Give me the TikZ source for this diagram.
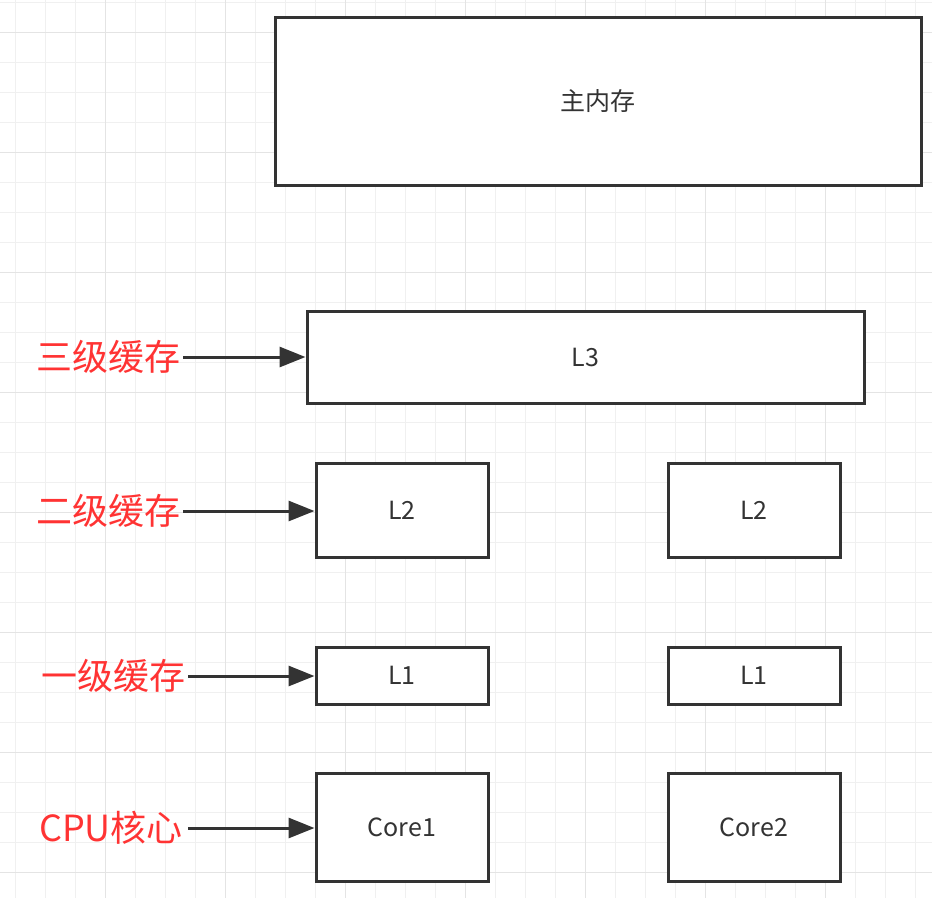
\documentclass[tikz,border=0pt]{standalone}
\usepackage{fontspec}
\newfontfamily\cjk{Noto Sans CJK SC}
\usetikzlibrary{arrows.meta}
\definecolor{gridminor}{HTML}{F0F0F0}
\definecolor{gridmajor}{HTML}{E4E4E4}
\definecolor{boxline}{HTML}{333333}
\definecolor{labelred}{HTML}{FF3333}
\begin{document}
\begin{tikzpicture}[x=1pt,y=-1pt]

        \useasboundingbox (0,0) rectangle (932,898);

        % grid
        \foreach \x in {15,45,...,915}
          \draw[gridminor,line width=1pt] (\x,0) -- (\x,898);
        \foreach \y in {2,32,...,872}
          \draw[gridminor,line width=1pt] (0,\y) -- (932,\y);
        \foreach \x in {105,225,...,825}
          \draw[gridmajor,line width=1pt] (\x,0) -- (\x,898);
        \foreach \y in {32,152,...,872}
          \draw[gridmajor,line width=1pt] (0,\y) -- (932,\y);

        \begin{scope}[every node/.style={rectangle,draw=boxline,line width=3pt,fill=white,
            text=boxline,font=\cjk\fontsize{25}{30}\selectfont,inner sep=0pt}]
          \node[minimum width=646pt,minimum height=168pt] (mem)   at (598,101)   {主内存};
          \node[minimum width=557pt,minimum height=92pt]  (l3)    at (585.5,357) {L3};
          \node[minimum width=172pt,minimum height=94pt]  (l2a)   at (402,510)   {L2};
          \node[minimum width=172pt,minimum height=94pt]  (l2b)   at (754,510)   {L2};
          \node[minimum width=172pt,minimum height=57pt]  (l1a)   at (402,675.5) {L1};
          \node[minimum width=172pt,minimum height=57pt]  (l1b)   at (754,675.5) {L1};
          \node[minimum width=172pt,minimum height=108pt] (corea) at (402,827)   {Core1};
          \node[minimum width=172pt,minimum height=108pt] (coreb) at (754,827)   {Core2};
        \end{scope}

        \begin{scope}[every node/.style={anchor=east,text=labelred,inner sep=0pt,
            font=\cjk\fontsize{36}{40}\selectfont}]
          \node (lab3)   at (181,357) {三级缓存};
          \node (lab2)   at (181,511) {二级缓存};
          \node (lab1)   at (186,676) {一级缓存};
          \node (labcpu) at (183,828) {CPU核心};
        \end{scope}

        \begin{scope}[every edge/.style={draw=boxline,line width=3pt,
            -{Triangle[length=26pt,width=20pt]}}]
          \path (lab3.east)   ++(2,0)   coordinate (s3)   edge (s3 -| l3.west);
          \path (lab2.east)   ++(2,0)   coordinate (s2)   edge (s2 -| l2a.west);
          \path (lab1.east)   ++(2,0)   coordinate (s1)   edge (s1 -| l1a.west);
          \path (labcpu.east) ++(5,0)   coordinate (scpu) edge (scpu -| corea.west);
        \end{scope}

      \end{tikzpicture}
\end{document}
